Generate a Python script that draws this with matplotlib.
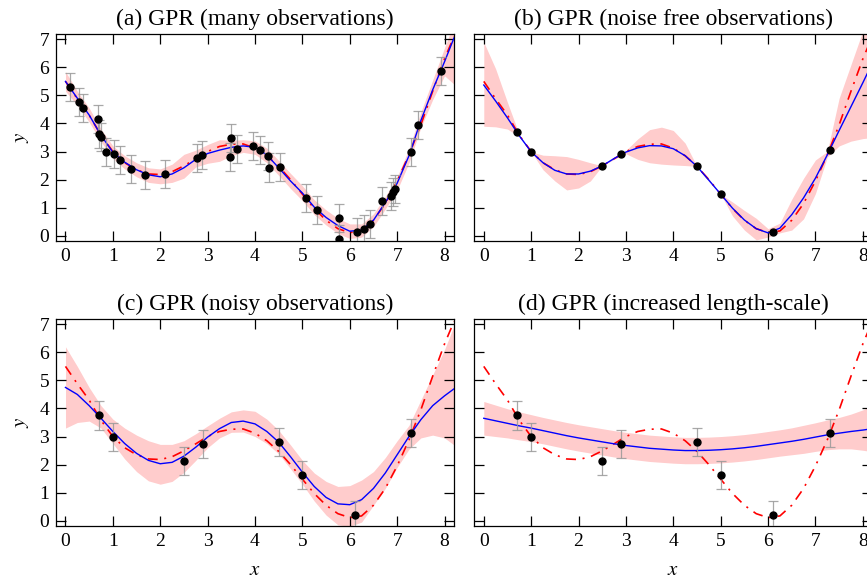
import matplotlib
matplotlib.use('Agg')
import matplotlib.pyplot as plt

plt.rcParams['font.family'] = ['Liberation Serif', 'DejaVu Serif']
plt.rcParams['mathtext.fontset'] = 'stix'

### Data

X_GRID = [0, 0.25, 0.5, 0.75, 1.0, 1.25, 1.5, 1.75, 2.0, 2.25, 2.5, 2.75, 3.0, 3.25,
          3.5, 3.75, 4.0, 4.25, 4.5, 4.75, 5.0, 5.25, 5.5, 5.75, 6.0, 6.25, 6.5,
          6.75, 7.0, 7.25, 7.5, 7.75, 8.0, 8.2]

# true function (red dash-dot)
TRUE_Y = [5.5, 4.88, 4.3, 3.58, 3.0, 2.6, 2.35, 2.2, 2.18, 2.28, 2.49, 2.74, 3.0, 3.18,
          3.26, 3.27, 3.12, 2.85, 2.47, 2.0, 1.48, 0.97, 0.55, 0.25, 0.11, 0.17, 0.55,
          1.15, 1.95, 2.88, 3.95, 5.15, 6.3, 7.1]

# (a) many observations
OBS_A_X = [0.09, 0.29, 0.37, 0.69, 0.71, 0.76, 0.86, 1.03, 1.16, 1.38, 1.67, 2.11,
           2.77, 2.88, 3.49, 3.47, 3.61, 3.95, 4.10, 4.27, 4.29, 4.53, 5.07, 5.30,
           5.78, 5.78, 6.16, 6.29, 6.43, 6.68, 6.86, 6.91, 6.96, 7.29, 7.43, 7.92]
OBS_A_Y = [5.29, 4.78, 4.54, 4.16, 3.63, 3.52, 3.0, 2.92, 2.71, 2.39, 2.16, 2.2,
           2.77, 2.88, 3.48, 2.81, 3.1, 3.19, 3.05, 2.85, 2.43, 2.44, 1.33, 0.9,
           0.63, -0.12, 0.14, 0.24, 0.42, 1.25, 1.42, 1.56, 1.66, 2.98, 3.94, 5.87]
MEAN_A = [5.5, 4.9, 4.3, 3.58, 2.97, 2.62, 2.35, 2.17, 2.1, 2.2, 2.42, 2.72, 2.93, 3.05,
          3.15, 3.2, 3.15, 2.88, 2.42, 1.95, 1.52, 1.02, 0.65, 0.36, 0.16, 0.2, 0.55,
          1.18, 1.87, 2.85, 4.1, 5.2, 6.2, 7.05]
LOW_A = [5.15, 4.65, 4.05, 3.35, 2.75, 2.38, 2.1, 1.9, 1.85, 1.9, 2.05, 2.45, 2.58, 2.65,
         2.85, 2.97, 2.9, 2.6, 2.15, 1.68, 1.25, 0.75, 0.38, 0.08, -0.1, -0.05, 0.32,
         0.95, 1.62, 2.6, 3.85, 4.85, 5.7, 5.4]
UP_A = [5.85, 5.15, 4.55, 3.8, 3.2, 2.85, 2.6, 2.42, 2.38, 2.55, 2.9, 3.05, 3.25, 3.42,
        3.4, 3.42, 3.38, 3.12, 2.68, 2.22, 1.78, 1.28, 0.92, 0.62, 0.42, 0.42, 0.78,
        1.4, 2.1, 3.1, 4.4, 5.55, 6.7, 7.6]

# (b)-(d) eight observations
OBS_X = [0.7, 1.0, 2.5, 2.9, 4.5, 5.0, 6.1, 7.3]
OBS_FREE_Y = [3.68, 2.99, 2.49, 2.91, 2.47, 1.48, 0.13, 3.07]
OBS_NOISY_Y = [3.75, 3.0, 2.13, 2.75, 2.8, 1.63, 0.21, 3.13]
OBS_ERR = 0.5

MEAN_B = [5.37, 4.8, 4.2, 3.56, 2.99, 2.6, 2.33, 2.2, 2.2, 2.3, 2.49, 2.75, 2.98, 3.13,
          3.21, 3.2, 3.1, 2.85, 2.47, 1.98, 1.48, 0.98, 0.56, 0.25, 0.1, 0.27, 0.75,
          1.35, 2.05, 2.88, 3.75, 4.6, 5.45, 6.15]
LOW_B = [3.9, 3.88, 3.8, 3.53, 2.99, 2.35, 1.95, 1.63, 1.7, 1.95, 2.49, 2.72, 2.92, 2.72,
         2.6, 2.55, 2.52, 2.5, 2.47, 1.93, 1.48, 0.7, 0.2, -0.15, -0.05, 0.1, 0.2,
         0.6, 1.5, 2.8, 3.2, 3.37, 3.46, 3.5]
UP_B = [6.9, 5.95, 4.75, 3.6, 2.99, 2.87, 2.85, 2.82, 2.72, 2.6, 2.49, 2.78, 3.04, 3.45,
        3.78, 3.87, 3.75, 3.3, 2.47, 2.03, 1.48, 1.2, 0.9, 0.62, 0.25, 0.45, 1.3,
        2.05, 2.7, 3.0, 4.9, 6.1, 7.3, 8.3]

MEAN_C = [4.75, 4.5, 4.1, 3.65, 3.18, 2.75, 2.4, 2.15, 2.03, 2.08, 2.3, 2.62, 2.98, 3.28,
          3.5, 3.55, 3.45, 3.18, 2.8, 2.28, 1.73, 1.22, 0.83, 0.6, 0.57, 0.75, 1.15,
          1.7, 2.35, 3.0, 3.6, 4.1, 4.45, 4.7]
LOW_C = [3.3, 3.5, 3.55, 3.3, 2.75, 2.2, 1.75, 1.42, 1.3, 1.4, 1.72, 2.15, 2.6, 2.95,
         3.15, 3.16, 3.0, 2.75, 2.38, 1.85, 1.3, 0.7, 0.2, -0.15, -0.2, -0.05, 0.55,
         1.15, 1.9, 2.55, 2.95, 3.05, 2.95, 2.7]
UP_C = [6.2, 5.5, 4.75, 4.1, 3.62, 3.3, 3.05, 2.85, 2.72, 2.72, 2.85, 3.1, 3.38, 3.65,
        3.88, 3.95, 3.9, 3.62, 3.22, 2.7, 2.15, 1.7, 1.4, 1.22, 1.25, 1.45, 1.75,
        2.25, 2.85, 3.4, 4.3, 5.2, 6.1, 6.95]

MEAN_D = [3.65, 3.56, 3.47, 3.38, 3.3, 3.21, 3.12, 3.03, 2.95, 2.88, 2.81, 2.74, 2.68,
          2.63, 2.58, 2.55, 2.52, 2.5, 2.5, 2.51, 2.53, 2.56, 2.6, 2.65, 2.71, 2.77,
          2.83, 2.9, 2.98, 3.06, 3.12, 3.18, 3.23, 3.28]
LOW_D = [3.05, 3.0, 2.95, 2.88, 2.82, 2.74, 2.65, 2.56, 2.48, 2.41, 2.34, 2.27, 2.21,
         2.16, 2.11, 2.08, 2.05, 2.03, 2.03, 2.04, 2.06, 2.09, 2.13, 2.18, 2.24, 2.3,
         2.35, 2.4, 2.47, 2.53, 2.56, 2.56, 2.51, 2.46]
UP_D = [4.25, 4.12, 3.99, 3.88, 3.78, 3.68, 3.59, 3.5, 3.42, 3.35, 3.28, 3.21, 3.15,
        3.1, 3.05, 3.02, 2.99, 2.97, 2.97, 2.98, 3.0, 3.03, 3.07, 3.12, 3.18, 3.24,
        3.31, 3.4, 3.49, 3.59, 3.68, 3.8, 3.95, 4.1]

TITLES = ['(a) GPR (many observations)', '(b) GPR (noise free observations)',
          '(c) GPR (noisy observations)', '(d) GPR (increased length-scale)']

### Figure

W, H = 867, 587
fig = plt.figure(figsize=(W / 100, H / 100), dpi=100)

def px_axes(left, top, right, bottom):
    return fig.add_axes([left / W, 1 - bottom / H, (right - left) / W, (bottom - top) / H])

axes = [px_axes(56, 33.7, 454, 241.3), px_axes(474.3, 33.7, 872.3, 241.3),
        px_axes(56, 318.7, 454, 526.3), px_axes(474.3, 318.7, 872.3, 526.3)]

panels = [
    (MEAN_A, LOW_A, UP_A, OBS_A_X, OBS_A_Y, True),
    (MEAN_B, LOW_B, UP_B, OBS_X, OBS_FREE_Y, False),
    (MEAN_C, LOW_C, UP_C, OBS_X, OBS_NOISY_Y, True),
    (MEAN_D, LOW_D, UP_D, OBS_X, OBS_NOISY_Y, True),
]

for i, (ax, (mean, low, up, ox, oy, has_err)) in enumerate(zip(axes, panels)):
    ax.fill_between(X_GRID, low, up, color='red', alpha=0.2, linewidth=0, zorder=1)
    ax.plot(X_GRID, TRUE_Y, color='red', lw=1.2, linestyle=(0, (6, 4, 1.2, 4)), zorder=2)
    ax.plot(X_GRID, mean, color='blue', lw=1.0, zorder=3)
    if has_err:
        ax.errorbar(ox, oy, yerr=OBS_ERR, fmt='none', ecolor='#999999', elinewidth=0.9,
                    capsize=3.8, capthick=0.9, alpha=0.85, zorder=4)
    ax.plot(ox, oy, 'o', color='black', markersize=5, zorder=5)

    ax.set_xlim(-0.2, 8.2)
    ax.set_ylim(-0.2, 7.2)
    ax.set_xticks(range(0, 9))
    ax.set_yticks(range(0, 8))
    ax.tick_params(direction='in', top=True, right=True, length=7, width=0.9,
                   labelsize=14, pad=5)
    for sp in ax.spines.values():
        sp.set_linewidth(0.9)
    ax.set_title(TITLES[i], fontsize=17, pad=6)
    if i % 2 == 1:
        ax.tick_params(labelleft=False)
    else:
        ax.set_ylabel('$y$', fontsize=15, labelpad=6)
    if i >= 2:
        ax.set_xlabel('$x$', fontsize=15, labelpad=8)

fig.savefig('out.png', dpi=100)
